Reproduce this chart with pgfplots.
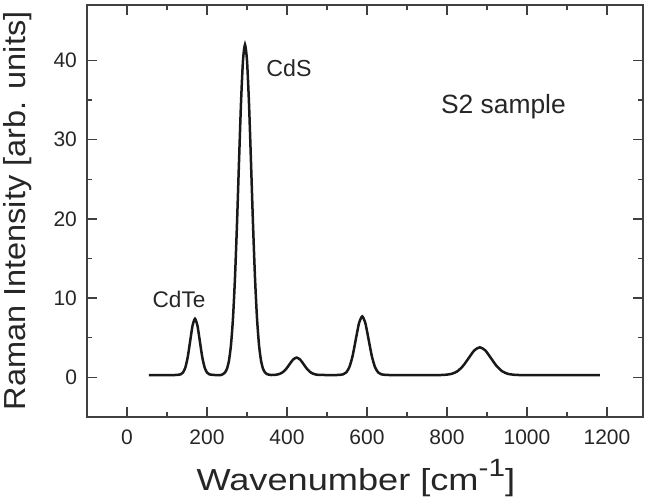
\documentclass[border=0pt]{standalone}
\usepackage{fontspec}
\setmainfont{Liberation Sans}
\usepackage{graphicx}
\usepackage{pgfplots}
\pgfplotsset{compat=1.18}
\begin{document}
\begin{tikzpicture}
\begin{axis}[
  scale only axis, width=278pt, height=206pt,
  xmin=-100, xmax=1290, ymin=-5, ymax=47,
  xtick={0,200,...,1200}, ytick={0,10,...,40},
  minor x tick num=1, minor y tick num=1,
  tick align=inside, tick pos=both,
  major tick length=5pt, minor tick length=2.5pt,
  /pgf/number format/assume math mode=true,
  /pgf/number format/1000 sep={},
  tick label style={font=\fontsize{10.5}{12}\selectfont, text=black!85},
  xticklabel style={yshift=-3pt},
  yticklabel style={xshift=-1.5pt},
  xlabel={\scalebox{1.19}[1]{Wavenumber [cm\raisebox{0.45em}{\fontsize{12.5}{14}\selectfont -1}]}},
  ylabel={\scalebox{1.07}[1]{Raman Intensity [arb. units]}},
  label style={font=\fontsize{15.2}{18}\selectfont, text=black!85},
  xlabel style={at={(axis description cs:0.4836,-0.1772)}, anchor=base},
  ylabel style={at={(axis description cs:-0.1115,0.5)}, anchor=base},
  axis line style={line width=0.8pt, black!75},
  every tick/.style={black!75, line width=0.7pt},
  clip=false,
]
\addplot[black!90, line width=1.25pt, smooth, tension=0.4] coordinates {
(55,0.3) (100,0.3) (120,0.3) (134,0.38) (140,0.61) (146,1.26) (152,2.61) (158,4.61) (164,6.57) (170,7.4)
(176,6.57) (182,4.61) (188,2.61) (194,1.26) (200,0.61) (206,0.38) (220,0.3) (235,0.3)
(240,0.41) (245,0.62) (250,1.10) (255,2.13) (260,4.11) (265,7.49) (270,12.60) (275,19.39) (280,27.17) (285,34.60) (290,40.01) (295,42.0)
(300,40.01) (305,34.60) (310,27.17) (315,19.39) (320,12.60) (325,7.49) (330,4.11) (335,2.13) (340,1.10) (345,0.62) (350,0.41) (360,0.3)
(370,0.32) (379,0.40) (388,0.60) (397,1.01) (406,1.63) (415,2.24) (424,2.5) (433,2.24) (442,1.63) (451,1.01) (460,0.60) (469,0.40) (478,0.32)
(495,0.3) (525,0.3)
(540,0.38) (548,0.62) (556,1.30) (564,2.70) (572,4.79) (580,6.83) (588,7.7) (596,6.83) (604,4.79) (612,2.70) (620,1.30) (628,0.62) (636,0.38)
(655,0.3) (700,0.3) (760,0.3) (785,0.3)
(798,0.34) (812,0.45) (826,0.77) (840,1.44) (854,2.42) (868,3.39) (882,3.8) (896,3.39) (910,2.42) (924,1.44) (938,0.77) (952,0.45) (966,0.34)
(980,0.3) (1050,0.3) (1120,0.3) (1182,0.3)
};
\node[font=\fontsize{11.3}{13}\selectfont, text=black!85] at (axis cs:130,9.85) {CdTe};
\node[font=\fontsize{11.6}{13}\selectfont, text=black!85] at (axis cs:405,39.0) {CdS};
\node[font=\fontsize{13.2}{15}\selectfont, text=black!85] at (axis cs:941,34.2) {S2 sample};
\coordinate (bl) at (rel axis cs:0,0);
\coordinate (tr) at (rel axis cs:1,1);
\end{axis}
\pgfresetboundingbox
\path[use as bounding box] ([xshift=-43.5pt,yshift=-40.5pt]bl) rectangle ([xshift=3.5pt,yshift=2.5pt]tr);
\end{tikzpicture}
\end{document}
